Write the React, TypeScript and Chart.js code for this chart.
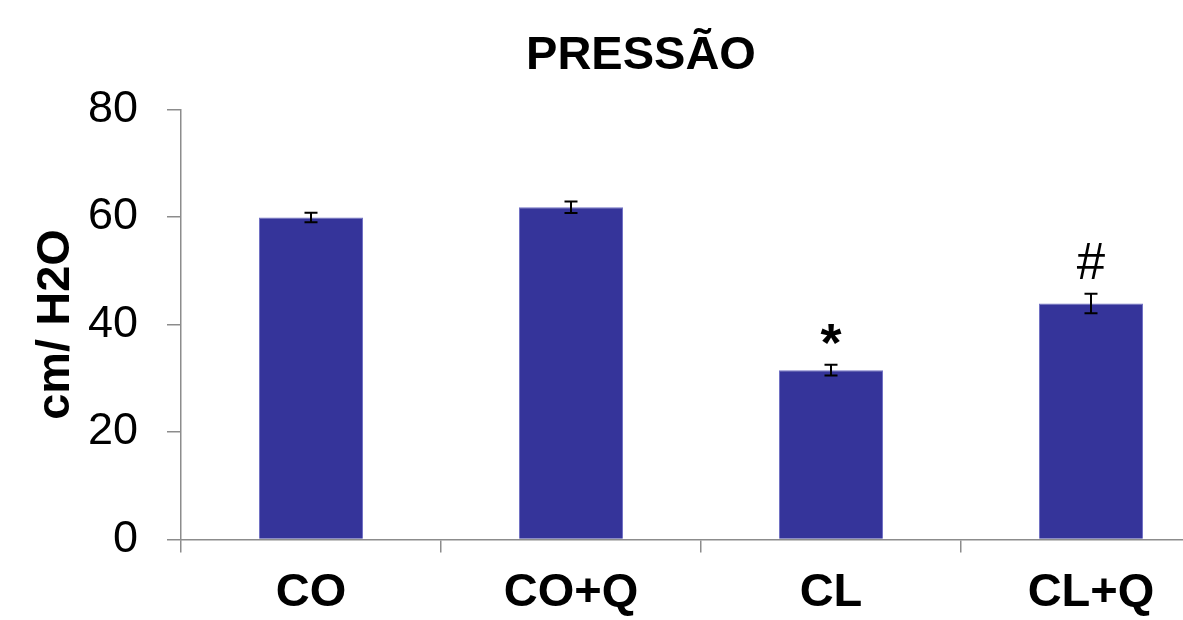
import React, { useEffect, useRef } from "react";
import { Chart, registerables } from "chart.js";

Chart.register(...registerables);

// ---- data ----
const categories: string[] = ["CO", "CO+Q", "CL", "CL+Q"];
const values: number[] = [59.9, 61.8, 31.5, 43.9];
const errors: number[] = [0.9, 1.05, 1.0, 1.8];
const marks: string[] = ["", "", "*", "#"];
const markBold: boolean[] = [false, false, true, false];
const yTickValues: number[] = [0, 20, 40, 60, 80];
const chartTitle = "PRESSÃO";
const yAxisTitle = "cm/ H2O";

const FONT = '"Liberation Sans", Arial, sans-serif';
const AXIS_GRAY = "#8c8c8c";
const BAR_BLUE = "#35349a";

const errorBarPlugin = {
  id: "errorBars",
  afterDatasetsDraw(chart: any) {
    const meta = chart.getDatasetMeta(0);
    const yScale = chart.scales.y;
    const ctx = chart.ctx;
    ctx.save();
    meta.data.forEach((bar: any, i: number) => {
      const x = bar.x;
      const top = yScale.getPixelForValue(values[i] + errors[i]);
      const bottom = yScale.getPixelForValue(values[i] - errors[i]);
      const cap = 6.5;
      ctx.strokeStyle = "#000";
      ctx.lineWidth = 2;
      ctx.beginPath();
      ctx.moveTo(x, top);
      ctx.lineTo(x, bottom);
      ctx.moveTo(x - cap, top);
      ctx.lineTo(x + cap, top);
      ctx.moveTo(x - cap, bottom);
      ctx.lineTo(x + cap, bottom);
      ctx.stroke();

      const m = marks[i];
      if (m) {
        ctx.font = `${markBold[i] ? "bold " : ""}${markBold[i] ? 54 : 51}px ${FONT}`;
        ctx.fillStyle = "#000";
        ctx.textAlign = "center";
        ctx.textBaseline = "alphabetic";
        const tm = ctx.measureText(m);
        const gap = markBold[i] ? 20 : 15;
        const baseline = top - gap - tm.actualBoundingBoxDescent;
        ctx.fillText(m, x, baseline);
      }
    });
    ctx.restore();
  },
};

export default function App() {
  const canvasRef = useRef<HTMLCanvasElement | null>(null);

  useEffect(() => {
    if (!canvasRef.current) return;
    const chart = new Chart(canvasRef.current, {
      type: "bar",
      data: {
        labels: categories,
        datasets: [
          {
            data: values,
            backgroundColor: BAR_BLUE,
            borderColor: "#7272c4",
            borderWidth: 1,
            barPercentage: 0.4,
            categoryPercentage: 1,
          },
        ],
      },
      options: {
        responsive: false,
        animation: false,
        devicePixelRatio: 1,
        layout: { padding: 0 },
        plugins: {
          legend: { display: false },
          tooltip: { enabled: false },
          title: {
            display: true,
            text: chartTitle,
            color: "#000",
            font: { family: FONT, size: 47, weight: "bold", lineHeight: 1.2 },
            padding: { top: 28, bottom: 25 },
          },
        },
        scales: {
          x: {
            grid: {
              display: true,
              drawOnChartArea: false,
              drawTicks: true,
              tickLength: 13,
              color: AXIS_GRAY,
              lineWidth: 1.5,
              offset: true,
            },
            border: { display: true, color: AXIS_GRAY, width: 1.5 },
            ticks: {
              color: "#000",
              padding: 12,
              maxRotation: 0,
              font: { family: FONT, size: 47, weight: "bold", lineHeight: 1.2 },
            },
            afterFit: (scale: any) => {
              scale.height = 81.4;
            },
          },
          y: {
            min: 0,
            max: 80,
            afterBuildTicks: (scale: any) => {
              scale.ticks = yTickValues.map((v) => ({ value: v }));
            },
            grid: {
              display: true,
              drawOnChartArea: false,
              drawTicks: true,
              tickLength: 14,
              color: AXIS_GRAY,
              lineWidth: 1.5,
            },
            border: { display: true, color: AXIS_GRAY, width: 1.5 },
            ticks: {
              color: "#000",
              padding: 29,
              font: { family: FONT, size: 45, lineHeight: 1.2 },
            },
            title: {
              display: true,
              text: yAxisTitle,
              color: "#000",
              font: { family: FONT, size: 47, weight: "bold", lineHeight: 1.2 },
              padding: { top: 27.5, bottom: 4 },
            },
            afterFit: (scale: any) => {
              scale.width = 181;
            },
          },
          yRight: {
            type: "linear",
            position: "right",
            display: true,
            grid: { display: false, drawTicks: false },
            border: { display: false },
            ticks: { display: false },
            afterFit: (scale: any) => {
              scale.width = 61;
            },
          },
        },
      },
      plugins: [errorBarPlugin],
    } as any);
    return () => chart.destroy();
  }, []);

  return (
    <div
      style={{
        position: "fixed",
        left: 0,
        top: 0,
        width: 1183,
        height: 620,
        overflow: "hidden",
        background: "#fff",
      }}
    >
      <canvas ref={canvasRef} width={1282} height={621} style={{ display: "block" }} />
    </div>
  );
}
